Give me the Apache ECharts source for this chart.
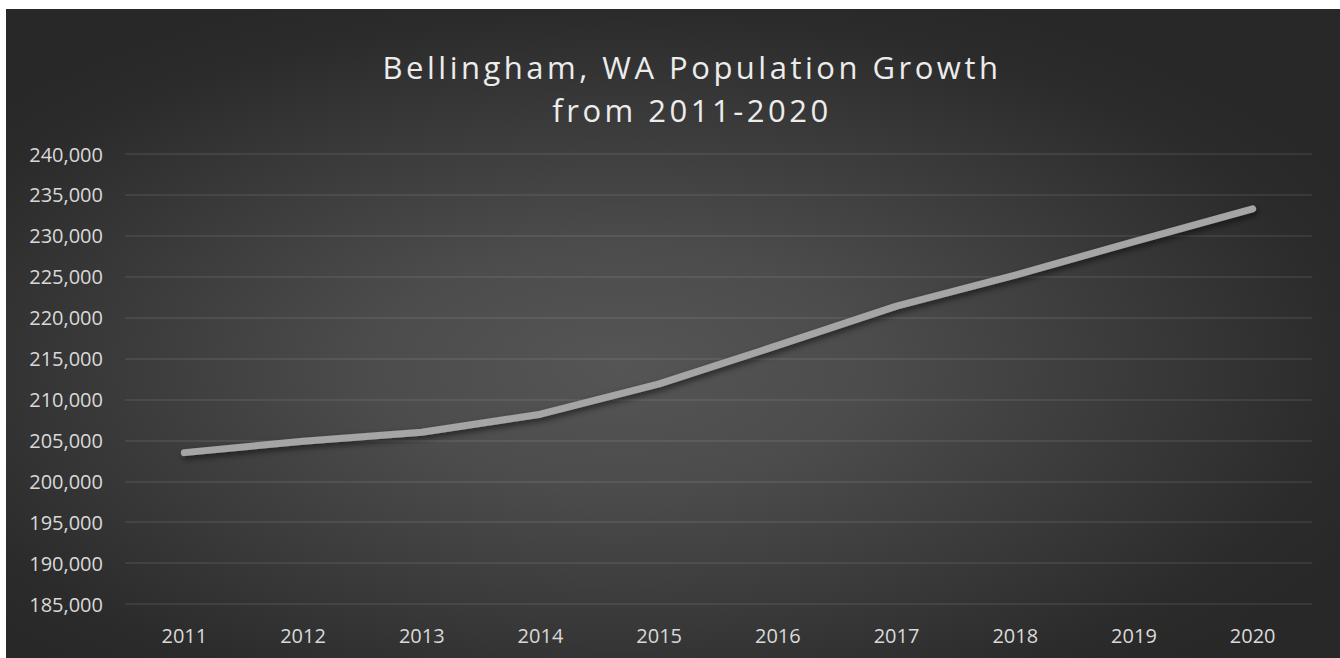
<!DOCTYPE html>
<html>
<head>
<meta charset="utf-8">
<title>Bellingham, WA Population Growth</title>
<script src="https://cdn.jsdelivr.net/npm/echarts@6/dist/echarts.min.js"></script>
<style>
  html, body { margin: 0; padding: 0; background: #ffffff; }
  #chart {
    position: absolute;
    left: 6px;
    top: 9px;
    width: 1334px;
    height: 649px;
    background: radial-gradient(ellipse 62% 62% at 46% 55%, #555555 0%, #4c4c4c 30%, #3a3a3a 62%, #2b2b2b 88%, #282828 100%);
  }
  /* wide tracking for the two title lines */
  #chart svg text[style*="31px"] { letter-spacing: 3.5px; }
</style>
</head>
<body>
<div id="chart"></div>
<script>
// Annual population estimates
const years = ['2011', '2012', '2013', '2014', '2015', '2016', '2017', '2018', '2019', '2020'];
const population = [203500, 204900, 206000, 208200, 211900, 216600, 221400, 225200, 229300, 233300];

// Value axis range
const yMin = 185000;
const yMax = 240000;
const yStep = 5000;

const titleText = 'Bellingham, WA Population Growth\nfrom 2011-2020';
const fontFamily = '"Open Sans", "Liberation Sans", sans-serif';

const chart = echarts.init(document.getElementById('chart'), null, { renderer: 'svg' });

chart.setOption({
  backgroundColor: 'transparent',
  animation: false,
  title: {
    text: titleText,
    left: 686,
    top: 36,
    padding: 0,
    textAlign: 'center',
    textStyle: {
      color: '#ececec',
      fontFamily: fontFamily,
      fontSize: 31,
      fontWeight: 'normal',
      lineHeight: 43
    }
  },
  grid: {
    left: 119,
    right: 28,
    top: 145,
    bottom: 54,
    containLabel: false
  },
  xAxis: {
    type: 'category',
    data: years,
    boundaryGap: true,
    axisLine: { show: false },
    axisTick: { show: false },
    axisLabel: {
      color: '#d9d9d9',
      fontFamily: fontFamily,
      fontSize: 20,
      margin: 21
    },
    splitLine: { show: false }
  },
  yAxis: {
    type: 'value',
    min: yMin,
    max: yMax,
    interval: yStep,
    axisLine: { show: false },
    axisTick: { show: false },
    axisLabel: {
      color: '#d9d9d9',
      fontFamily: fontFamily,
      fontSize: 20,
      margin: 22,
      formatter: v => v.toLocaleString('en-US')
    },
    splitLine: {
      show: true,
      lineStyle: { color: 'rgba(255,255,255,0.10)', width: 1.5 }
    }
  },
  series: [{
    type: 'line',
    data: population,
    symbol: 'none',
    smooth: false,
    lineStyle: {
      color: '#a5a5a5',
      width: 7,
      cap: 'round',
      join: 'round',
      shadowColor: 'rgba(0,0,0,0.55)',
      shadowBlur: 6,
      shadowOffsetX: 2,
      shadowOffsetY: 3
    }
  }]
});
</script>
</body>
</html>
